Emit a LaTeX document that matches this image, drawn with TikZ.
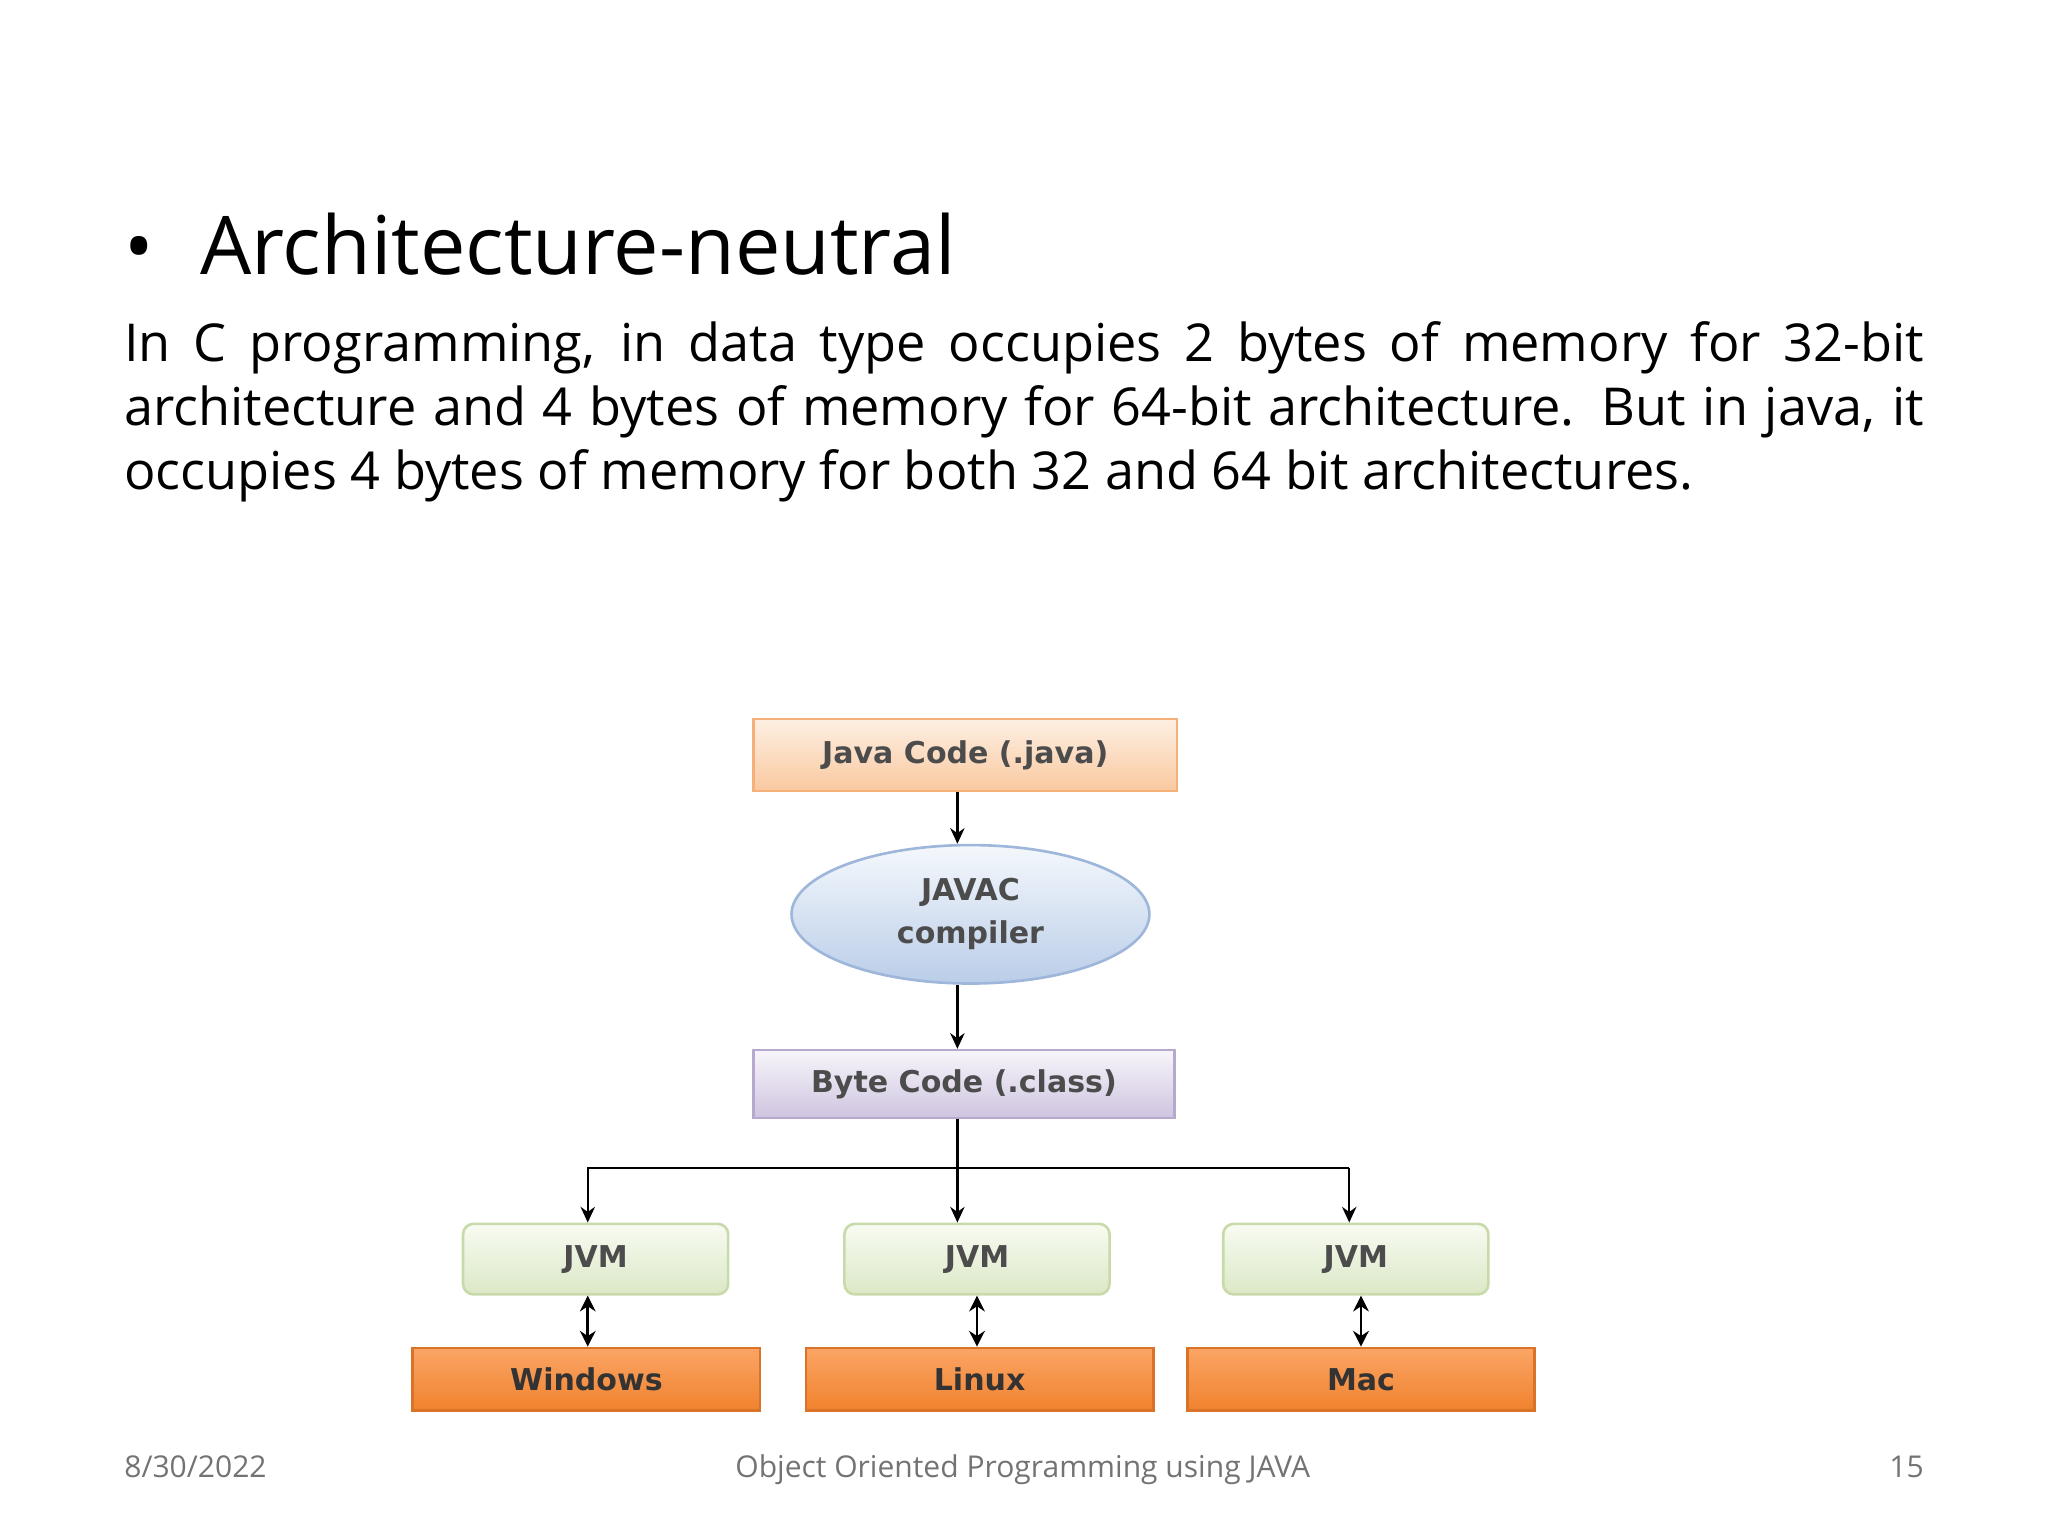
\documentclass[tikz,border=0pt]{standalone}
\usepackage{fontspec}
\setmainfont{Open Sans}
\newfontfamily\dia{DejaVu Sans}
\usetikzlibrary{shapes.geometric,arrows.meta}
\definecolor{pch1}{HTML}{FDEFE3}\definecolor{pch2}{HTML}{F9C9A0}\definecolor{pchd}{HTML}{F5B07A}
\definecolor{blu1}{HTML}{F4F8FC}\definecolor{blu2}{HTML}{BACDE8}\definecolor{blud}{HTML}{9DB6DA}
\definecolor{lav1}{HTML}{F7F5FA}\definecolor{lav2}{HTML}{CFC4E0}\definecolor{lavd}{HTML}{B7A8CE}
\definecolor{grn1}{HTML}{F8FBF2}\definecolor{grn2}{HTML}{DBE8C6}\definecolor{grnd}{HTML}{C8DAAA}
\definecolor{or1}{HTML}{FBA565}\definecolor{or2}{HTML}{F0822E}\definecolor{ord}{HTML}{D9732A}
\begin{document}
\begin{tikzpicture}[x=1pt,y=-1pt,
  box/.style={draw,line width=2pt,inner sep=0pt,font=\dia\bfseries\fontsize{23}{28}\selectfont,text=black!70},
  arr/.style={-{Stealth[length=12pt,width=11pt]},line width=1.8pt},
  dbl/.style={{Stealth[length=12pt,width=12pt]}-{Stealth[length=12pt,width=12pt]},line width=2pt}]
\useasboundingbox (0,0) rectangle (1568,1176);
\node[anchor=base west,inner sep=0pt,font=\fontsize{60}{64}\selectfont] (bul) at (95,210) {\textbullet};
\node[anchor=base west,inner sep=0pt,font=\fontsize{62}{68}\selectfont] (title) at (153,210) {Architecture-neutral};
\node[anchor=base west,inner sep=0pt,text width=1378pt,align=justify,font=\fontsize{40}{49}\selectfont] (body) at (95,277)
{In C programming, in data type occupies 2 bytes of memory for 32-bit\linebreak architecture and 4 bytes of memory for 64-bit architecture. But in java, it\linebreak occupies 4 bytes of memory for both 32 and 64 bit architectures.};
% diagram
\node[box,minimum width=324pt,minimum height=55pt,top color=pch1,bottom color=pch2,draw=pchd] (java) at (739,578) {Java Code (.java)};
\node[box,ellipse,minimum width=274pt,minimum height=106pt,top color=blu1,bottom color=blu2,draw=blud,align=center,font=\dia\bfseries\fontsize{23}{33}\selectfont] (javac) at (743,700) {JAVAC\\compiler};
\node[box,minimum width=322pt,minimum height=52pt,top color=lav1,bottom color=lav2,draw=lavd] (byte) at (738,830) {Byte Code (.class)};
\tikzset{jvm/.style={box,rounded corners=8pt,minimum width=203pt,minimum height=54pt,top color=grn1,bottom color=grn2,draw=grnd}}
\tikzset{os/.style={box,minimum width=266pt,minimum height=48pt,top color=or1,bottom color=or2,draw=ord,text=black!80}}
\node[jvm] (j1) at (456,964) {JVM};
\node[jvm] (j2) at (748,964) {JVM};
\node[jvm] (j3) at (1038,964) {JVM};
\node[os] (w) at (449,1056) {Windows};
\node[os] (l) at (750,1056) {Linux};
\node[os] (m) at (1042,1056) {Mac};
\draw[arr] (java.south -| 733,0) -- (javac.north -| 733,0);
\draw[arr] (javac.south -| 733,0) -- (byte.north -| 733,0);
\coordinate (bL) at (450,894);
\coordinate (bR) at (1033,894);
\draw[arr] (byte.south -| 733,0) -- (j2.north -| 733,0);
\draw[arr] (bL -| bR) -- (bL) -- (j1.north -| bL);
\draw[arr] (bR) -- (j3.north -| bR);
\draw[dbl] (j1.south -| 450,0) -- (w.north -| 450,0);
\draw[dbl] (j2.south -| 748,0) -- (l.north -| 748,0);
\draw[dbl] (j3.south -| 1042,0) -- (m.north -| 1042,0);
% footer
\node[anchor=base west,inner sep=0pt,text=black!55,font=\fontsize{23}{28}\selectfont] (date) at (95,1131) {8/30/2022};
\node[anchor=base,inner sep=0pt,text=black!55,font=\fontsize{23}{28}\selectfont] (foot) at (783,1131) {Object Oriented Programming using JAVA};
\node[anchor=base east,inner sep=0pt,text=black!55,font=\fontsize{23}{28}\selectfont] (pg) at (1473,1131) {15};
\end{tikzpicture}
\end{document}
